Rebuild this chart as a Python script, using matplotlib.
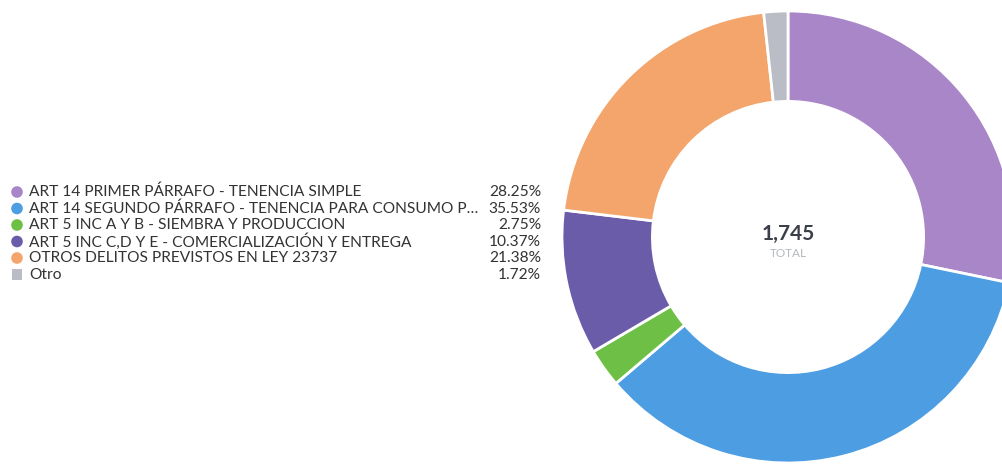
import numpy as np
import matplotlib
matplotlib.use('Agg')
import matplotlib.pyplot as plt

plt.rcParams['font.family'] = ['Lato', 'DejaVu Sans']

labels = ['ART 14 PRIMER PÁRRAFO - TENENCIA SIMPLE',
          'ART 14 SEGUNDO PÁRRAFO - TENENCIA PARA CONSUMO P…',
          'ART 5 INC A Y B - SIEMBRA Y PRODUCCION',
          'ART 5 INC C,D Y E - COMERCIALIZACIÓN Y ENTREGA',
          'OTROS DELITOS PREVISTOS EN LEY 23737',
          'Otro']
shares = [28.25, 35.53, 2.75, 10.37, 21.38, 1.72]
colors = ['#a886c8', '#4c9de2', '#6dbf46', '#6a5ca8', '#f3a56c', '#babcc6']
markers = ['o', 'o', 'o', 'o', 'o', 's']
total = 1745

W, H = 1003, 465
fig = plt.figure(figsize=(W / 100, H / 100), dpi=100)

# donut, slightly cut off on the right like the original
cx, cy, R = 788, 237, 226
ax = fig.add_axes([(cx - R) / W, (H - cy - R) / H, 2 * R / W, 2 * R / H])
ax.pie(shares, colors=colors, startangle=90, counterclock=False,
       wedgeprops=dict(width=0.40, edgecolor='white', linewidth=2.0))
ax.set_xlim(-1, 1)
ax.set_ylim(-1, 1)
ax.set_aspect('equal')
ax.axis('off')
ax.text(0, 0.015, f'{total:,}', ha='center', va='center', fontsize=15,
        fontweight='bold', color='#3a3f4a')
ax.text(0, -0.075, 'TOTAL', ha='center', va='center', fontsize=8.5,
        color='#b5b8bf')

# legend drawn in pixel coords
lg = fig.add_axes([0, 0, 1, 1])
lg.set_xlim(0, W)
lg.set_ylim(H, 0)
lg.axis('off')
y0, dy = 192, 16.5
for i, (lab, val) in enumerate(zip(labels, shares)):
    y = y0 + i * dy
    lg.scatter(17, y, s=70 if markers[i] == 'o' else 55, marker=markers[i],
               color=colors[i], edgecolors='none')
    lg.text(29, y, lab, ha='left', va='center', fontsize=11.2, color='#333333')
    lg.text(541, y, f'{val:.2f}%', ha='right', va='center', fontsize=11.2,
            color='#333333')

fig.savefig('out.png', dpi=100)
